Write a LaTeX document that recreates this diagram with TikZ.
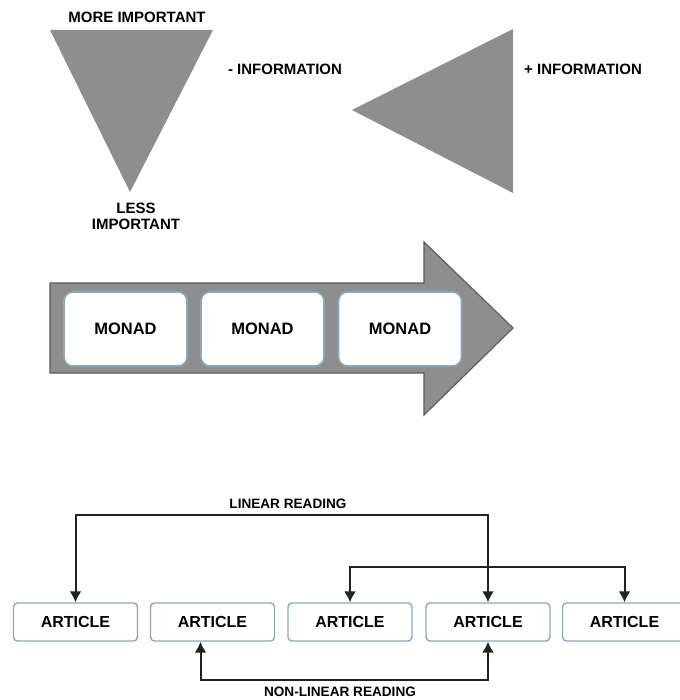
\documentclass[tikz,border=0pt]{standalone}
\usepackage{fontspec}
\setmainfont{Liberation Sans}
\usepackage{tikz}
\usetikzlibrary{
    arrows.meta,
    positioning,
    calc
}
\definecolor{shapegray}{HTML}{8E8E8E}
\definecolor{edgegray}{HTML}{5E5E5E}
\definecolor{boxedge}{HTML}{8FA6B4}
\definecolor{linkdark}{HTML}{222222}
\tikzset{
    lab/.style={
        font=\bfseries\fontsize{15}{16}\selectfont,
        align=center,
        text=black
    },
    labsmall/.style={
        font=\bfseries\fontsize{13.6}{15}\selectfont,
        align=center,
        text=black
    },
    monad/.style={
        draw=boxedge,
        fill=white,
        rectangle,
        rounded corners=9pt,
        minimum width=123pt,
        minimum height=74pt,
        line width=1.6pt,
        font=\bfseries\fontsize{16.5}{18}\selectfont
    },
    article/.style={
        draw=boxedge,
        fill=white,
        rectangle,
        rounded corners=4pt,
        minimum width=124pt,
        minimum height=38pt,
        line width=1.4pt,
        font=\bfseries\fontsize{16}{18}\selectfont
    },
    arr/.style={
        {Latex[length=11pt,width=12pt]}-{Latex[length=11pt,width=12pt]},
        line width=2pt,
        draw=linkdark
    }
}

\begin{document}
\begin{tikzpicture}[x=1pt,y=-1pt]
\useasboundingbox (0,0) rectangle (679,700);
% pyramids
\fill[shapegray] (50,30) -- (213,30) -- (130,192) -- cycle;
\fill[shapegray] (352,110) -- (513,29) -- (513,193) -- cycle;
\node[lab] (more) at (137,17) {MORE IMPORTANT};
\node[lab] (less) at (136,216) {LESS\\IMPORTANT};
\node[lab] (minfo) at (285,69) {- INFORMATION};
\node[lab] (pinfo) at (583,69) {+ INFORMATION};
% big arrow with monads
\draw[fill=shapegray, draw=edgegray, line width=1.2pt] (50,283) -- (424,283) -- (424,242) -- (513,328) -- (424,415) -- (424,373) -- (50,373) -- cycle;
\node[monad] (m1) at (125.5,329) {MONAD};
\node[monad] (m2) at (262.5,329) {MONAD};
\node[monad] (m3) at (400,329) {MONAD};
% articles
\node[article] (a1) at (75.5,622) {ARTICLE};
\node[article] (a2) at (212.5,622) {ARTICLE};
\node[article] (a3) at (350,622) {ARTICLE};
\node[article] (a4) at (488,622) {ARTICLE};
\node[article] (a5) at (624.5,622) {ARTICLE};
\node[labsmall] (linlab) at (288,504) {LINEAR READING};
\node[labsmall] (nonlab) at (340,692) {NON-LINEAR READING};
\coordinate (lintop) at (288,515);
\coordinate (cross) at (488,567);
\coordinate (nonbot) at (340,680);
\draw[arr] (a1.north) |- (lintop) -| (a4.north);
\draw[arr] (a3.north) |- (cross) -| (a5.north);
\draw[arr] ([xshift=-12pt]a2.south) |- (nonbot) -| (a4.south);
\end{tikzpicture}
\end{document}
